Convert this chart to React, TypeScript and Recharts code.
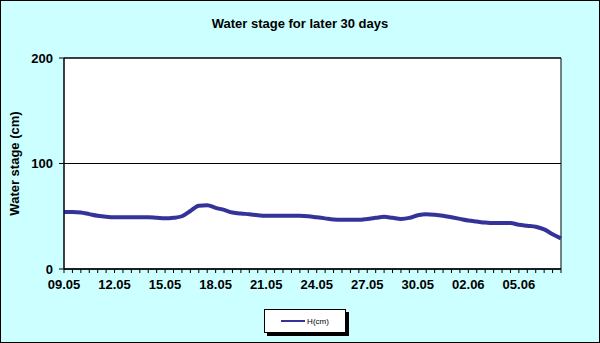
import { LineChart, Line, XAxis, YAxis, CartesianGrid, ReferenceArea } from 'recharts';

const days = [
    '09.05', '10.05', '11.05', '12.05', '13.05', '14.05', '15.05', '16.05', '17.05', '18.05',
    '19.05', '20.05', '21.05', '22.05', '23.05', '24.05', '25.05', '26.05', '27.05', '28.05',
    '29.05', '30.05', '31.05', '01.06', '02.06', '03.06', '04.06', '05.06', '06.06', '07.06',
];

// two readings per day (cm)
const stage = [
    54, 54, 53.5, 52, 50.5, 49.5, 49, 49, 49, 49,
    49, 48.5, 48, 48.5, 50, 55, 60, 60.5, 58, 56,
    53.5, 52.5, 52, 51, 50.5, 50.5, 50.5, 50.5, 50.5, 50,
    49, 48, 47, 46.7, 46.7, 46.7, 47.5, 48.5, 49.5, 48.5,
    47.5, 48.5, 51, 52, 51.5, 50.5, 49, 47.5, 46, 45,
    44, 43.5, 43.5, 43.5, 42, 41, 40, 37.5, 33, 29,
];

const yTicks = [0, 100, 200];

const data = stage.map((h, i) => ({ i, day: days[Math.floor(i / 2)], h }));
const xTicks = data.map((d) => d.i);

const font = 'Arial, "Liberation Sans", sans-serif';
const tickStyle = { fontFamily: font, fontSize: 13, fontWeight: 'bold', fill: '#000' };

export default function App() {
    return (
        <div style={{ position: 'relative', width: 600, height: 343, background: '#CCFFFF', boxSizing: 'border-box', border: '1px solid #000', fontFamily: font }}>
            <style>{'body{margin:0}'}</style>
            <div style={{ position: 'absolute', top: 15, left: 0, width: 598, textAlign: 'center', fontSize: 13, fontWeight: 'bold' }}>
                Water stage for later 30 days
            </div>
            <div style={{ position: 'absolute', left: 0, top: 0 }}>
                <LineChart width={598} height={341} data={data} margin={{ top: 57, right: 38, bottom: 43, left: 0 }}>
                    <CartesianGrid fill="#fff" stroke="#000" vertical={false} />
                    <ReferenceArea x1={0} x2={59} y1={0} y2={200} fill="none" stroke="#000" strokeOpacity={1} ifOverflow="visible" />
                    <XAxis
                        dataKey="i"
                        type="number"
                        domain={[0, 59]}
                        ticks={xTicks}
                        interval={0}
                        tickSize={4}
                        tickMargin={7}
                        height={30}
                        stroke="#000"
                        tickFormatter={(v: number) => (v % 6 === 0 ? days[v / 2] : '')}
                        tick={tickStyle}
                    />
                    <YAxis
                        domain={[0, 200]}
                        ticks={yTicks}
                        width={63}
                        tickSize={5}
                        tickMargin={6}
                        stroke="#000"
                        tick={tickStyle}
                        label={{ value: 'Water stage (cm)', angle: -90, position: 'insideLeft', offset: 13, style: { fontFamily: font, fontSize: 13, fontWeight: 'bold', fill: '#000', textAnchor: 'middle' } }}
                    />
                    <Line type="monotone" dataKey="h" stroke="#333399" strokeWidth={4} dot={false} isAnimationActive={false} />
                </LineChart>
            </div>
            <div style={{ position: 'absolute', left: 266, top: 311, width: 82, height: 24, background: '#000' }} />
            <div style={{ position: 'absolute', left: 263, top: 308, width: 82, height: 24, background: '#fff', border: '1px solid #000', boxSizing: 'border-box', display: 'flex', alignItems: 'center', justifyContent: 'center', fontSize: 8 }}>
                <span style={{ display: 'inline-block', width: 24, height: 2, background: '#333399', marginRight: 2 }} />
                H(cm)
            </div>
        </div>
    );
}
